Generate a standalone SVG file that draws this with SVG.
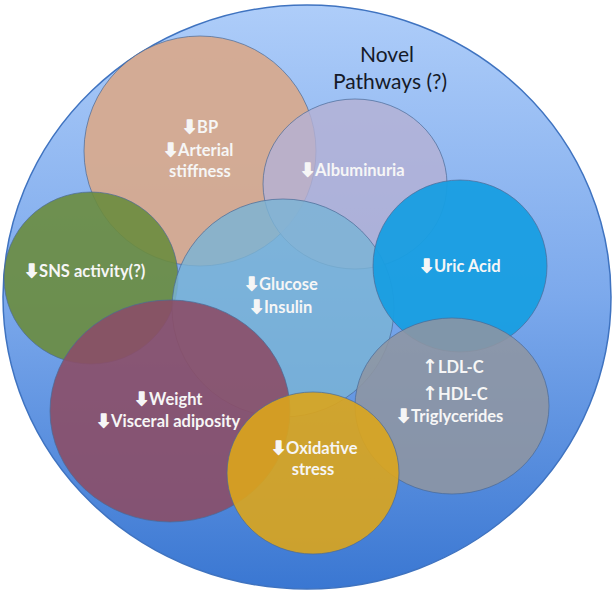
<svg xmlns="http://www.w3.org/2000/svg" width="615" height="593" viewBox="0 0 615 593">
<defs>
<linearGradient id="bg" x1="0" y1="0" x2="0" y2="1">
<stop offset="0" stop-color="#aecdf9"/>
<stop offset="0.5" stop-color="#7ca9ec"/>
<stop offset="1" stop-color="#3a77d2"/>
</linearGradient>
</defs>
<style>
.c{stroke:#4a6a96;stroke-width:1;stroke-opacity:0.7}
.t{font-family:Lato,"Open Sans","DejaVu Sans",sans-serif;font-weight:bold;font-size:16.5px;fill:#f6f6f6}
.m{text-anchor:middle}
.a{font-family:"DejaVu Sans",sans-serif;font-weight:bold;font-size:18px;stroke:#f6f6f6;stroke-width:1.4;stroke-linejoin:round}
.u{font-family:"DejaVu Sans",sans-serif;font-weight:bold;font-size:19px}
.n{font-family:Lato,"Open Sans",sans-serif;font-size:21px;fill:#151a28;text-anchor:middle}
</style>
<rect width="615" height="593" fill="#ffffff"/>
<g id="outer">
<ellipse cx="307" cy="297" rx="304" ry="292" fill="url(#bg)" stroke="#3f73c0" stroke-width="1.5"/>
<text class="n" x="387" y="62">Novel</text>
<text class="n" x="390" y="89">Pathways (?)</text>
</g>
<g id="bp">
<ellipse class="c" cx="200" cy="151" rx="116" ry="115" fill="#d6aa8f" fill-opacity="0.95"/>
<text class="t" x="182" y="133"><tspan class="a">⬇</tspan>BP</text>
<text class="t" x="163" y="156"><tspan class="a">⬇</tspan>Arterial</text>
<text class="t m" x="200" y="177">stiffness</text>
</g>
<g id="sns">
<ellipse class="c" cx="91" cy="278" rx="87" ry="86" fill="#6a8c3e" fill-opacity="0.9"/>
<text class="t" x="24" y="277"><tspan class="a">⬇</tspan>SNS activity(?)</text>
</g>
<g id="albuminuria">
<ellipse class="c" cx="355" cy="184" rx="92" ry="85" fill="#b4b1d4" fill-opacity="0.82"/>
<text class="t" x="300" y="176"><tspan class="a">⬇</tspan>Albuminuria</text>
</g>
<g id="glucose">
<ellipse class="c" cx="283" cy="308" rx="111" ry="109" fill="#7ab3d6" fill-opacity="0.82"/>
<text class="t" x="244" y="290"><tspan class="a">⬇</tspan>Glucose</text>
<text class="t" x="249" y="313"><tspan class="a">⬇</tspan>Insulin</text>
</g>
<g id="weight">
<ellipse class="c" cx="170" cy="411" rx="120" ry="111" fill="#8b4e67" fill-opacity="0.9"/>
<text class="t" x="134" y="405"><tspan class="a">⬇</tspan>Weight</text>
<text class="t" x="96" y="427"><tspan class="a">⬇</tspan>Visceral adiposity</text>
</g>
<g id="uric">
<ellipse class="c" cx="460" cy="266" rx="87" ry="86" fill="#189ee2" fill-opacity="0.95"/>
<text class="t" x="419" y="272"><tspan class="a">⬇</tspan>Uric Acid</text>
</g>
<g id="lipids">
<ellipse class="c" cx="452" cy="406" rx="97" ry="88" fill="#8e95a2" fill-opacity="0.88"/>
<text class="t" x="422" y="373"><tspan class="u">↑</tspan>LDL-C</text>
<text class="t" x="422" y="400"><tspan class="u">↑</tspan>HDL-C</text>
<text class="t" x="396" y="422"><tspan class="a">⬇</tspan>Triglycerides</text>
</g>
<g id="oxidative">
<ellipse class="c" cx="313" cy="473" rx="86" ry="81" fill="#dca51c" fill-opacity="0.9"/>
<text class="t" x="271" y="454"><tspan class="a">⬇</tspan>Oxidative</text>
<text class="t m" x="313" y="475">stress</text>
</g>
</svg>
